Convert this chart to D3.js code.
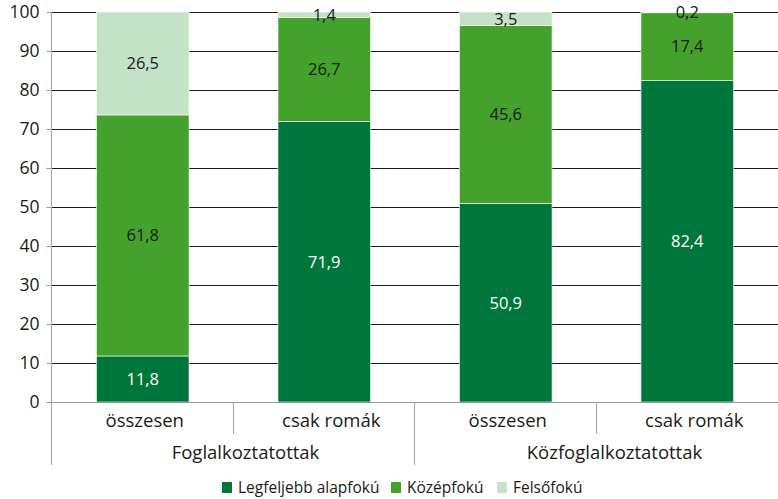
<!DOCTYPE html>
<html>
<head>
<meta charset="utf-8">
<script src="https://cdn.jsdelivr.net/npm/d3@7"></script>
<style>
  body { margin: 0; background: #fff; }
  svg text { font-family: "Open Sans", "Noto Sans", sans-serif; }
</style>
</head>
<body>
<svg id="chart" width="778" height="499"></svg>
<script>
const groups = ['Foglalkoztatottak', 'Közfoglalkoztatottak'];
const subcats = ['összesen', 'csak romák', 'összesen', 'csak romák'];
const seriesNames = ['Legfeljebb alapfokú', 'Középfokú', 'Felsőfokú'];
const alapfoku = [11.8, 71.9, 50.9, 82.4];
const kozepfoku = [61.8, 26.7, 45.6, 17.4];
const felsofoku = [26.5, 1.4, 3.5, 0.2];
const yTicks = [0, 10, 20, 30, 40, 50, 60, 70, 80, 90, 100];

const colors = ['#00773a', '#44a12c', '#c3e2c6'];
const labelColors = ['#fff', '#1a1a1a', '#1a1a1a'];

const svg = d3.select('#chart');
const margin = { left: 52, right: 0, top: 12, bottom: 97 };
const W = 778, H = 499;

const rows = subcats.map((s, i) => ({
  key: i,
  sub: s,
  values: [alapfoku[i], kozepfoku[i], felsofoku[i]],
}));

const x = d3.scaleBand()
  .domain(rows.map((d) => d.key))
  .range([margin.left, W - margin.right])
  .paddingInner(0.49)
  .paddingOuter(0.245);

const xOuter = d3.scaleBand()
  .domain(rows.map((d) => d.key))
  .range([margin.left, W - margin.right]);

const y = d3.scaleLinear().domain([0, 100]).range([H - margin.bottom, margin.top]);

// gridlines
svg.append('g')
  .selectAll('line')
  .data(yTicks.filter((t) => t > 0))
  .join('line')
  .attr('x1', margin.left)
  .attr('x2', W)
  .attr('y1', (d) => Math.round(y(d)) + 0.5)
  .attr('y2', (d) => Math.round(y(d)) + 0.5)
  .attr('stroke', '#1a1a1a')
  .attr('stroke-width', 1);

// y axis
const yAxis = svg.append('g')
  .attr('transform', `translate(${margin.left - 0.5},0)`)
  .call(d3.axisLeft(y).tickValues(yTicks).tickSize(5).tickPadding(7));
yAxis.select('.domain').remove();
yAxis.selectAll('.tick line').attr('stroke', '#999');
yAxis.selectAll('.tick text')
  .attr('font-size', 17.5)
  .attr('fill', '#1a1a1a');

// stacked bars
const stack = rows.map((r) => {
  let acc = 0;
  return r.values.map((v, j) => {
    const seg = { key: r.key, j, v, y0: acc, y1: acc + v };
    acc += v;
    return seg;
  });
});

const segs = stack.flat();
svg.append('g')
  .selectAll('rect')
  .data(segs)
  .join('rect')
  .attr('x', (d) => x(d.key))
  .attr('width', x.bandwidth())
  .attr('y', (d) => y(Math.min(d.y1, 100)))
  .attr('height', (d) => y(d.y0) - y(Math.min(d.y1, 100)))
  .attr('fill', (d) => colors[d.j])
  .attr('stroke', '#fff')
  .attr('stroke-width', 0.6);

svg.append('g')
  .selectAll('text')
  .data(segs)
  .join('text')
  .attr('x', (d) => x(d.key) + x.bandwidth() / 2)
  .attr('y', (d) => y((d.y0 + Math.min(d.y1, 100)) / 2))
  .attr('dy', '0.35em')
  .attr('text-anchor', 'middle')
  .attr('font-size', 16.5)
  .attr('fill', (d) => labelColors[d.j])
  .text((d) => String(d.v).replace('.', ','));

// baseline
svg.append('line')
  .attr('x1', margin.left - 5)
  .attr('x2', W)
  .attr('y1', y(0) + 0.5)
  .attr('y2', y(0) + 0.5)
  .attr('stroke', '#999');

// category axis separators
const y0 = y(0);
const sepLines = [
  { x: xOuter(0), bottom: 465 },
  { x: xOuter(1), bottom: 434 },
  { x: xOuter(2), bottom: 465 },
  { x: xOuter(3), bottom: 434 },
];
svg.append('g')
  .selectAll('line')
  .data(sepLines)
  .join('line')
  .attr('x1', (d) => Math.round(d.x) - 0.5)
  .attr('x2', (d) => Math.round(d.x) - 0.5)
  .attr('y1', (d) => (d.x === margin.left ? margin.top : y0))
  .attr('y2', (d) => d.bottom)
  .attr('stroke', '#aaa')
  .attr('stroke-width', 1.2);

// labels sit a little right of centre in the original
svg.append('g')
  .selectAll('text')
  .data(rows)
  .join('text')
  .attr('x', (d) => xOuter(d.key) + xOuter.bandwidth() / 2 + (d.key % 2 ? 7 : 2))
  .attr('y', 421)
  .attr('dy', '0.35em')
  .attr('text-anchor', 'middle')
  .attr('font-size', 18.5)
  .attr('fill', '#1a1a1a')
  .text((d) => d.sub);

const groupShift = [12, 18];
svg.append('g')
  .selectAll('text')
  .data(groups)
  .join('text')
  .attr('x', (d, i) =>
    (xOuter(i * 2) + xOuter(i * 2 + 1) + xOuter.bandwidth()) / 2 + groupShift[i])
  .attr('y', 453)
  .attr('dy', '0.35em')
  .attr('text-anchor', 'middle')
  .attr('font-size', 18.5)
  .attr('fill', '#1a1a1a')
  .text((d) => d);

// legend
const legendX = [222, 391, 497];
const legend = svg.append('g')
  .selectAll('g')
  .data(seriesNames)
  .join('g')
  .attr('transform', (d, i) => `translate(${legendX[i]},482)`);
legend.append('rect')
  .attr('width', 10)
  .attr('height', 11)
  .attr('fill', (d, i) => colors[i]);
legend.append('text')
  .attr('x', 16)
  .attr('y', 5.5)
  .attr('dy', '0.35em')
  .attr('font-size', 15.5)
  .attr('fill', '#1a1a1a')
  .text((d) => d);
</script>
</body>
</html>
